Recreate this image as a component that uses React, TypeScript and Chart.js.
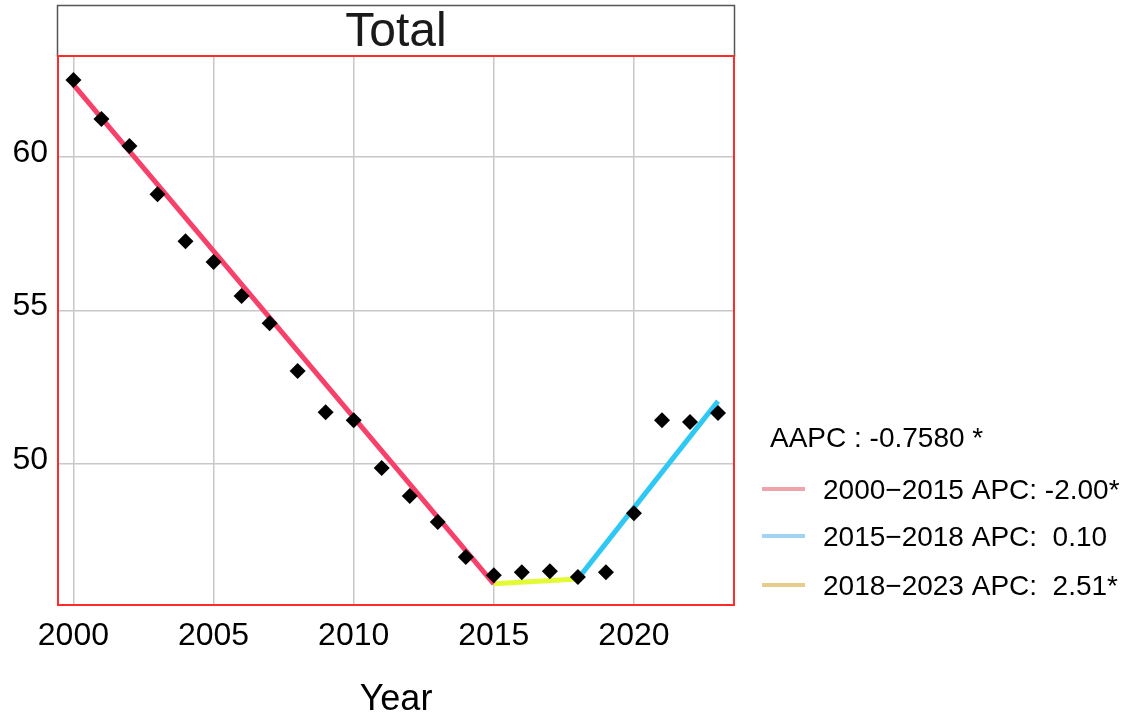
import React, { useEffect, useRef } from "react";
import { Chart, registerables } from "chart.js";

Chart.register(...registerables);

// ---- data ----
const years = [2000, 2001, 2002, 2003, 2004, 2005, 2006, 2007, 2008, 2009, 2010, 2011, 2012, 2013, 2014, 2015, 2016, 2017, 2018, 2019, 2020, 2021, 2022, 2023];
const observed = [62.51, 61.24, 60.36, 58.79, 57.26, 56.58, 55.47, 54.59, 53.03, 51.69, 51.43, 49.87, 48.96, 48.11, 46.97, 46.38, 46.48, 46.51, 46.32, 46.48, 48.40, 51.43, 51.37, 51.66];

const seg1Years = [2000, 2015];
const seg1Values = [62.36, 46.1];
const seg2Years = [2015, 2018];
const seg2Values = [46.1, 46.26];
const seg3Years = [2018, 2023];
const seg3Values = [46.26, 52.05];

const xTicks = [2000, 2005, 2010, 2015, 2020];
const yTicks = [50, 55, 60];

const titleText = "Total";
const xTitleText = "Year";
const aapcText = "AAPC : -0.7580 *";
const legendLabels = ["2000\u22122015 APC: -2.00*", "2015\u22122018 APC:  0.10", "2018\u22122023 APC:  2.51*"];
const legendColors = ["#f0a3aa", "#a3d3f2", "#e8cd8a"];

const FONT = "'Liberation Sans', Arial, Helvetica, sans-serif";

const toPts = (xs: number[], ys: number[]) => xs.map((x, i) => ({ x, y: ys[i] }));

const framePlugin = {
  id: "framePlugin",
  beforeDraw(chart: any) {
    const { ctx, width, height } = chart;
    ctx.save();
    ctx.fillStyle = "#ffffff";
    ctx.fillRect(0, 0, width, height);
    ctx.restore();
  },
  afterDraw(chart: any) {
    const { ctx, chartArea: a } = chart;
    ctx.save();
    // title strip
    ctx.strokeStyle = "#555555";
    ctx.lineWidth = 1.5;
    ctx.strokeRect(a.left - 0.5, 5.5, a.right - a.left + 1, a.top - 5.5);
    ctx.fillStyle = "#1a1a1a";
    ctx.font = `48px ${FONT}`;
    ctx.textAlign = "center";
    ctx.textBaseline = "alphabetic";
    ctx.fillText(titleText, (a.left + a.right) / 2, 46);

    // panel border
    ctx.strokeStyle = "#ff2a2a";
    ctx.lineWidth = 2;
    ctx.strokeRect(a.left, a.top, a.right - a.left, a.bottom - a.top);

    // legend
    ctx.textAlign = "left";
    ctx.fillStyle = "#000000";
    ctx.font = `28px ${FONT}`;
    ctx.fillText(aapcText, 770, 447);
    const rows = [489, 536, 585];
    rows.forEach((y, i) => {
      ctx.strokeStyle = legendColors[i];
      ctx.lineWidth = 4;
      ctx.beginPath();
      ctx.moveTo(762, y);
      ctx.lineTo(805, y);
      ctx.stroke();
      ctx.fillStyle = "#000000";
      ctx.fillText(legendLabels[i], 823, y + 10);
    });
    ctx.restore();
  },
};

export default function App() {
  const canvasRef = useRef<HTMLCanvasElement | null>(null);

  useEffect(() => {
    const canvas = canvasRef.current;
    if (!canvas) return;
    const chart = new Chart(canvas, {
      type: "scatter",
      data: {
        datasets: [
          {
            label: "Observed",
            data: toPts(years, observed),
            pointStyle: "rectRot",
            pointRadius: 8,
            pointBackgroundColor: "#000000",
            pointBorderWidth: 0,
            showLine: false,
          },
          {
            label: "seg1",
            data: toPts(seg1Years, seg1Values),
            showLine: true,
            borderColor: "#f7416a",
            borderWidth: 5,
            pointRadius: 0,
          },
          {
            label: "seg2",
            data: toPts(seg2Years, seg2Values),
            showLine: true,
            borderColor: "#e2fb34",
            borderWidth: 5,
            pointRadius: 0,
          },
          {
            label: "seg3",
            data: toPts(seg3Years, seg3Values),
            showLine: true,
            borderColor: "#2fc8f4",
            borderWidth: 5,
            pointRadius: 0,
          },
        ] as any,
      },
      options: {
        animation: false,
        responsive: false,
        devicePixelRatio: 1,
        layout: { padding: { top: 56, right: 393, bottom: 0, left: 0 } },
        plugins: {
          legend: { display: false },
          tooltip: { enabled: false },
          title: { display: false },
        },
        scales: {
          x: {
            type: "linear",
            min: 1999.45,
            max: 2023.57,
            afterBuildTicks: (s: any) => {
              s.ticks = xTicks.map((v) => ({ value: v }));
            },
            afterFit: (s: any) => {
              s.height = 114;
            },
            grid: { color: "#c8c8c8", lineWidth: 1.5, drawTicks: false },
            border: { display: false },
            ticks: {
              color: "#000000",
              font: { family: FONT, size: 32 },
              padding: 12,
              maxRotation: 0,
              autoSkip: false,
              callback: (v: any) => String(v),
            },
            title: {
              display: true,
              text: xTitleText,
              color: "#000000",
              font: { family: FONT, size: 36 },
              padding: { top: 0, bottom: -3 },
            },
          },
          y: {
            type: "linear",
            min: 45.41,
            max: 63.29,
            afterBuildTicks: (s: any) => {
              s.ticks = yTicks.map((v) => ({ value: v }));
            },
            afterFit: (s: any) => {
              s.width = 58;
            },
            grid: { color: "#c8c8c8", lineWidth: 1.5, drawTicks: false },
            border: { display: false },
            ticks: {
              color: "#000000",
              font: { family: FONT, size: 32 },
              padding: 10,
              labelOffset: -4,
              autoSkip: false,
              callback: (v: any) => String(v),
            },
          },
        },
      } as any,
      plugins: [framePlugin],
    });
    return () => chart.destroy();
  }, []);

  return (
    <div style={{ position: "fixed", left: 0, top: 0, width: 1127, height: 719, background: "#fff" }}>
      <canvas ref={canvasRef} width={1127} height={719} style={{ width: 1127, height: 719, display: "block" }} />
    </div>
  );
}
